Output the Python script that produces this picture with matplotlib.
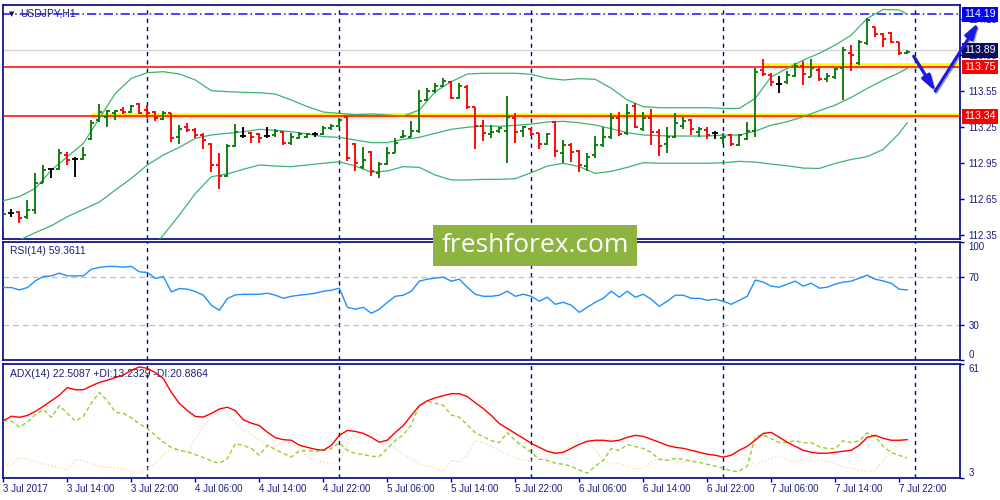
import matplotlib
matplotlib.use("Agg")
import matplotlib.pyplot as plt
import matplotlib.transforms as mtransforms
from matplotlib.collections import LineCollection
from matplotlib.patches import Rectangle

# ---------------- data (USDJPY H1, 3 Jul 06:00 .. 7 Jul 23:00) ----------------
opens = [112.434, 112.531, 112.545, 112.503, 112.559, 112.786, 112.897, 112.897, 113.017, 112.984,
         112.981, 113.148, 113.309, 113.336, 113.364, 113.392, 113.378, 113.442, 113.392, 113.378,
         113.314, 113.364, 113.164, 113.248, 113.225, 113.184, 113.109, 112.934, 112.842, 113.092,
         113.175, 113.198, 113.192, 113.175, 113.184, 113.211, 113.120, 113.156, 113.170, 113.192,
         113.192, 113.239, 113.259, 113.336, 113.109, 112.920, 113.045, 112.864, 112.939, 113.036,
         113.164, 113.170, 113.220, 113.475, 113.553, 113.592, 113.628, 113.489, 113.586, 113.414,
         113.259, 113.192, 113.220, 113.220, 113.323, 113.220, 113.231, 113.198, 113.109, 113.295,
         113.036, 113.100, 113.053, 112.925, 113.017, 113.100, 113.164, 113.323, 113.198, 113.425,
         113.231, 113.323, 113.211, 113.109, 113.164, 113.259, 113.309, 113.211, 113.225, 113.198,
         113.155, 113.183, 113.100, 113.147, 113.219, 113.725, 113.683, 113.608, 113.628, 113.675,
         113.758, 113.669, 113.725, 113.647, 113.664, 113.739, 113.864, 113.780, 113.947, 114.080,
         114.025, 114.030, 113.955, 113.864]
highs = [112.545, 112.564, 112.550, 112.642, 112.864, 112.934, 112.900, 113.067, 113.045, 112.998,
         113.081, 113.309, 113.442, 113.392, 113.392, 113.414, 113.434, 113.448, 113.434, 113.384,
         113.384, 113.370, 113.267, 113.281, 113.239, 113.198, 113.114, 113.036, 113.109, 113.275,
         113.248, 113.211, 113.198, 113.248, 113.231, 113.217, 113.198, 113.211, 113.198, 113.211,
         113.259, 113.275, 113.323, 113.342, 113.114, 113.081, 113.050, 112.956, 113.086, 113.156,
         113.225, 113.303, 113.559, 113.573, 113.614, 113.661, 113.636, 113.614, 113.600, 113.414,
         113.309, 113.267, 113.253, 113.508, 113.364, 113.259, 113.239, 113.198, 113.198, 113.300,
         113.142, 113.120, 113.059, 113.031, 113.175, 113.248, 113.370, 113.378, 113.442, 113.453,
         113.378, 113.397, 113.231, 113.248, 113.370, 113.336, 113.314, 113.248, 113.253, 113.220,
         113.203, 113.189, 113.191, 113.294, 113.739, 113.814, 113.703, 113.675, 113.719, 113.780,
         113.803, 113.814, 113.739, 113.697, 113.739, 113.914, 113.933, 113.975, 114.155, 114.086,
         114.030, 114.039, 113.961, 113.891]
lows = [112.392, 112.503, 112.448, 112.481, 112.525, 112.781, 112.823, 112.892, 112.934, 112.836,
        112.975, 113.142, 113.295, 113.253, 113.309, 113.359, 113.364, 113.359, 113.323, 113.300,
        113.309, 113.123, 113.109, 113.211, 113.156, 113.064, 112.878, 112.731, 112.831, 113.086,
        113.156, 113.120, 113.120, 113.156, 113.170, 113.100, 113.100, 113.148, 113.161, 113.164,
        113.184, 113.225, 113.248, 112.970, 112.886, 112.900, 112.842, 112.823, 112.934, 113.031,
        113.156, 113.164, 113.198, 113.470, 113.536, 113.586, 113.481, 113.481, 113.397, 113.064,
        113.136, 113.156, 113.198, 112.953, 113.120, 113.164, 113.175, 113.064, 113.100, 113.003,
        112.948, 112.961, 112.878, 112.886, 112.989, 113.086, 113.148, 113.175, 113.184, 113.239,
        113.220, 113.100, 113.009, 113.031, 113.156, 113.231, 113.184, 113.164, 113.148, 113.148,
        113.108, 113.094, 113.094, 113.141, 113.164, 113.675, 113.592, 113.530, 113.608, 113.664,
        113.600, 113.664, 113.636, 113.628, 113.647, 113.475, 113.719, 113.766, 113.933, 114.003,
        113.914, 113.953, 113.850, 113.858]
closes = [112.525, 112.531, 112.489, 112.559, 112.786, 112.892, 112.897, 113.031, 112.975, 112.984,
          113.017, 113.286, 113.378, 113.384, 113.386, 113.378, 113.425, 113.370, 113.364, 113.323,
          113.370, 113.156, 113.231, 113.225, 113.184, 113.142, 112.934, 112.842, 113.092, 113.211,
          113.175, 113.164, 113.156, 113.175, 113.217, 113.114, 113.164, 113.192, 113.189, 113.192,
          113.239, 113.259, 113.309, 112.989, 112.953, 112.975, 112.886, 112.942, 113.036, 113.120,
          113.175, 113.220, 113.470, 113.553, 113.592, 113.636, 113.489, 113.592, 113.420, 113.259,
          113.203, 113.211, 113.239, 113.331, 113.211, 113.253, 113.192, 113.106, 113.192, 113.050,
          113.100, 113.045, 112.934, 113.003, 113.100, 113.164, 113.323, 113.192, 113.364, 113.253,
          113.323, 113.211, 113.092, 113.164, 113.286, 113.303, 113.231, 113.231, 113.184, 113.198,
          113.169, 113.108, 113.183, 113.219, 113.711, 113.691, 113.628, 113.608, 113.683, 113.758,
          113.691, 113.739, 113.647, 113.675, 113.730, 113.891, 113.850, 113.961, 114.141, 114.025,
          113.980, 113.961, 113.864, 113.878]

# Bollinger bands (20)
bb_x = list(range(0, 113, 2)) + [113]
bb_upper = [112.636, 112.670, 112.739, 112.892, 113.003, 113.114, 113.323, 113.531, 113.656, 113.703,
            113.711, 113.692, 113.642, 113.553, 113.545, 113.539, 113.536, 113.525, 113.475, 113.420,
            113.375, 113.364, 113.353, 113.359, 113.350, 113.342, 113.392, 113.545, 113.628, 113.692,
            113.698, 113.698, 113.698, 113.689, 113.656, 113.642, 113.653, 113.648, 113.573, 113.475,
            113.420, 113.411, 113.411, 113.411, 113.411, 113.405, 113.405, 113.489, 113.669, 113.739,
            113.808, 113.864, 113.933, 114.016, 114.155, 114.230, 114.225, 114.191]
bb_middle = [112.250, 112.309, 112.370, 112.428, 112.503, 112.564, 112.625, 112.725, 112.823, 112.934,
             113.017, 113.081, 113.156, 113.184, 113.198, 113.211, 113.231, 113.223, 113.211, 113.192,
             113.170, 113.164, 113.142, 113.120, 113.120, 113.148, 113.164, 113.198, 113.231, 113.248,
             113.259, 113.256, 113.264, 113.275, 113.292, 113.297, 113.286, 113.267, 113.236, 113.203,
             113.184, 113.178, 113.175, 113.175, 113.175, 113.183, 113.183, 113.216, 113.266, 113.294,
             113.336, 113.386, 113.433, 113.497, 113.572, 113.641, 113.702, 113.739]
bb_low_x = list(range(18, 113, 2)) + [113]
bb_lower = [112.200, 112.350, 112.517, 112.697, 112.836, 112.859, 112.898, 112.934, 112.925, 112.920,
            112.934, 112.948, 112.961, 112.925, 112.873, 112.884, 112.920, 112.914, 112.850, 112.809,
            112.809, 112.814, 112.814, 112.820, 112.870, 112.925, 112.948, 112.920, 112.864, 112.881,
            112.914, 112.953, 112.948, 112.948, 112.948, 112.948, 112.952, 112.964, 112.958, 112.941,
            112.927, 112.908, 112.905, 112.947, 112.980, 113.003, 113.064, 113.197, 113.286]

rsi = [61.4, 61.4, 59.4, 61.4, 67.1, 70.8, 71.3, 73.6, 71.3, 71.3, 71.3, 77.0, 78.4, 79.3, 79.3, 78.7,
       79.3, 74.7, 74.2, 69.1, 70.8, 57.7, 60.6, 60.0, 58.0, 54.9, 46.4, 42.1, 52.1, 55.2, 55.7,
       55.7, 55.7, 56.6, 54.9, 52.3, 54.0, 54.9, 55.7, 56.6, 58.3, 59.1, 60.9, 44.7, 43.0, 44.7, 39.6,
       43.0, 48.9, 54.0, 54.9, 58.3, 66.8, 68.5, 69.4, 70.2, 66.8, 68.5, 61.7, 55.7, 54.0, 54.0, 54.9,
       58.3, 54.0, 55.7, 54.0, 49.8, 53.2, 47.2, 48.9, 46.4, 40.4, 44.7, 48.9, 52.3, 58.3, 53.2, 58.3,
       53.2, 55.7, 51.5, 45.5, 49.8, 54.9, 54.9, 52.3, 52.3, 50.6, 51.5, 49.8, 47.2, 50.6, 54.0, 67.7,
       66.0, 62.6, 61.7, 64.3, 66.8, 62.6, 65.1, 60.9, 61.7, 64.3, 66.0, 66.8, 69.4, 71.9, 68.5, 67.0,
       65.0, 60.0, 59.36]
adx = [32.2, 34.4, 33.9, 34.8, 36.9, 39.5, 42.3, 45.2, 49.0, 47.9, 47.9, 49.9, 51.6, 52.8, 54.1, 55.4,
       57.8, 59.5, 58.8, 56.6, 53.6, 46.5, 41.0, 37.3, 34.3, 34.0, 35.9, 38.1, 39.0, 37.3, 32.6, 30.9,
       29.7, 26.3, 23.5, 22.5, 22.2, 19.7,
       18.6, 17.6, 17.1, 19.6, 24.7, 27.2, 26.7, 25.7, 23.7, 21.2, 22.2, 26.2, 29.7, 34.8, 39.8, 42.3,
       43.8, 44.9, 45.9, 45.9, 44.4, 41.3, 38.3, 34.8, 30.7, 28.2, 25.7, 23.2, 20.6, 18.6, 16.6, 15.6,
       16.1, 18.1, 20.1, 21.7, 22.2, 22.2, 21.7, 22.2, 23.7, 24.7, 24.2, 22.7, 21.2, 19.6, 18.6, 18.1,
       17.1, 16.1, 15.1, 14.6, 13.6, 14.6, 17.1, 19.1, 22.2, 25.7, 26.2, 23.7, 21.2, 19.1, 17.1, 16.1,
       15.6, 15.6, 16.1, 16.6, 17.1, 19.6, 23.7, 24.7, 23.2, 22.2, 22.2, 22.5]
plus_di = [32.2, 31.9, 28.9, 31.4, 35.3, 37.8, 33.9, 39.8, 35.9, 31.9, 34.4, 41.2, 46.5, 42.3, 36.4,
           35.9, 33.6, 30.6, 28.1, 24.7, 21.3, 18.5, 17.1, 16.3, 14.9, 13.4, 11.7, 10.4, 12.9, 20.5,
           19.6, 18.0, 14.6, 19.6, 17.5, 15.5, 13.7, 16.8,
           17, 16.5, 17, 18, 21, 17, 15.5, 15, 14, 14, 18, 22, 25, 30, 40, 42, 41, 40, 35, 34,
           30, 26, 24, 22, 21, 26, 22, 19, 16, 12.5, 12, 10.5, 10, 9, 7, 5.5, 9, 12, 18, 17,
           20, 19, 18, 16, 12.5, 12, 13, 12.5, 11.5, 11, 10, 9, 8, 6.5, 6.5, 9, 24, 25, 23, 21,
           21, 22, 21, 21, 19, 18, 18, 22, 21, 22, 26, 24, 19, 16, 14.5, 13.2]
minus_di = [10.4, 9.6, 13.4, 12.6, 11.2, 10.1, 9.1, 8.4, 7.0, 12.4, 11.6, 10.4, 8.7, 8.7, 8.2, 7.5,
            6.2, 5.4, 7.9, 10.7, 14.9, 17.1, 16.8, 16.3, 22.7, 28.9, 33.9, 36.1, 35.3, 31.4, 27.2,
            25.2, 22.2, 19.6, 18.8, 21.8, 20.8, 18.0,
            14, 12, 11, 10.5, 10, 22, 24, 23, 26, 25, 22, 18, 15, 13, 10, 9, 8, 6.5, 12, 11,
            15, 22, 21, 19, 17, 15, 13, 12, 11.5, 14, 13, 17, 18, 19, 22, 21, 17, 12, 10, 10.5,
            9, 7.5, 8, 11, 13, 12, 11, 11, 12, 12.5, 13.5, 13, 14, 16, 15, 14, 10, 11.5, 13, 14,
            12.5, 11, 13, 11.5, 12, 11.5, 10.5, 8.5, 8, 7, 6, 7, 12, 17, 20, 20.9]

x_tick_bars = list(range(0, 113, 8))
x_tick_labels = ["3 Jul 2017", "3 Jul 14:00", "3 Jul 22:00", "4 Jul 06:00", "4 Jul 14:00",
                 "4 Jul 22:00", "5 Jul 06:00", "5 Jul 14:00", "5 Jul 22:00", "6 Jul 06:00",
                 "6 Jul 14:00", "6 Jul 22:00", "7 Jul 06:00", "7 Jul 14:00", "7 Jul 22:00"]
day_separators = [18, 42, 66, 90, 114]
price_ticks = [112.35, 112.65, 112.95, 113.25, 113.55, 113.85, 114.15]
level_lo, level_hi, level_top, bid = 113.34, 113.75, 114.19, 113.89

# ---------------- style ----------------
NAVY = "#000080"
TXT = "#1c1c78"
GREEN = "#0a7a0a"
FS = 7
plt.rcParams["font.family"] = ["Liberation Sans", "DejaVu Sans"]

fig = plt.figure(figsize=(10, 5), dpi=100)
fig.patch.set_facecolor("white")
L, W = 0.003, 0.957
ax = fig.add_axes([L, 0.522, W, 0.468])
ax_rsi = fig.add_axes([L, 0.280, W, 0.236], sharex=ax)
ax_adx = fig.add_axes([L, 0.044, W, 0.228], sharex=ax)

n = len(closes)
for a in (ax, ax_rsi, ax_adx):
    a.set_facecolor("white")
    for s in a.spines.values():
        s.set_color(NAVY)
        s.set_linewidth(1.2)
    a.yaxis.tick_right()
    a.tick_params(axis="y", colors=NAVY, labelcolor=TXT, labelsize=FS, length=3, width=1, pad=3)
    a.tick_params(axis="x", colors=NAVY, labelcolor=TXT, labelsize=FS, length=3, width=1, pad=1.5)
    for d in day_separators:
        a.axvline(d, color=NAVY, lw=1.0, ls=(0, (3, 3)), zorder=1)
ax.set_xlim(-0.05, 119.6)

# ---------------- main price panel ----------------
ax.set_ylim(112.317, 114.267)
ax.set_yticks(price_ticks)
ax.set_yticklabels([f"{v:.2f}" for v in price_ticks])
ax.tick_params(axis="x", bottom=False, labelbottom=False)
ax_rsi.tick_params(axis="x", bottom=False, labelbottom=False)

ax.axhline(bid, color="#d3d3d3", lw=1, zorder=1)
ax.axhline(level_top, color="#1010ff", lw=1.1, ls=(0, (6, 2, 1, 2)), zorder=1)

# yellow zones with soft shadow
for lv, x0 in ((level_lo, 10.9), (level_hi, 95.0)):
    for k, al in enumerate([0.12, 0.08, 0.05, 0.03]):
        ax.plot([x0, 119.6], [lv - 0.006 - 0.008 * k] * 2, color="gray", lw=1.6, alpha=al,
                solid_capstyle="butt", zorder=2)
    ax.plot([x0, 119.6], [lv + 0.013] * 2, color="#ffff00", lw=3.4, solid_capstyle="butt", zorder=2)
ax.axhline(level_lo, color="#ff0000", lw=1.1, zorder=3)
ax.axhline(level_hi, color="#ff0000", lw=1.1, zorder=3)

# Bollinger bands
for xs, ys in ((bb_x, bb_upper), (bb_x, bb_middle), (bb_low_x, bb_lower)):
    ax.plot(xs, ys, color="#3cb371", lw=0.9, zorder=3)

# OHLC bars
segs, cols = [], []
for i in range(n):
    o, h, l, c = opens[i], highs[i], lows[i], closes[i]
    col = GREEN if c > o else ("#ff0000" if c < o else "black")
    segs += [[(i, l), (i, h)], [(i - 0.38, o), (i, o)], [(i, c), (i + 0.38, c)]]
    cols += [col] * 3
ax.add_collection(LineCollection(segs, colors=cols, linewidths=1.35, zorder=4, capstyle="butt"))

# price boxes on the right scale
btr = mtransforms.blended_transform_factory(ax.transAxes, ax.transData)
for v, fc in ((level_top, "#0000ff"), (bid, "#0c0c5c"), (level_hi, "#ff0000"), (level_lo, "#ff0000")):
    ax.text(1.0045, v, f"{v:.2f}", transform=btr, color="white", fontsize=FS + 0.6, va="center",
            ha="left", bbox=dict(boxstyle="square,pad=0.22", fc=fc, ec="none"), zorder=10, clip_on=False)

# forecast arrows
for (xa, ya), (xb, yb) in (((113.8, 113.84), (116.5, 113.55)), ((116.5, 113.55), (121.9, 114.12))):
    ax.annotate("", xy=(xb + 0.15, yb - 0.012), xytext=(xa + 0.15, ya - 0.012),
                arrowprops=dict(arrowstyle="-|>,head_length=0.9,head_width=0.28", color="#00003a",
                                lw=2.2, alpha=0.35, shrinkA=0, shrinkB=0), annotation_clip=False, zorder=11)
    ax.annotate("", xy=(xb, yb), xytext=(xa, ya),
                arrowprops=dict(arrowstyle="-|>,head_length=0.9,head_width=0.28", color="#1a1ae6",
                                lw=2.2, shrinkA=0, shrinkB=0), annotation_clip=False, zorder=12)

ax.text(0.006, 0.974, "\u25BC", transform=ax.transAxes, fontsize=5, color="#10104a", va="top",
        ha="left", family="DejaVu Sans")
ax.text(0.018, 0.985, "USDJPY,H1", transform=ax.transAxes, fontsize=FS + 0.5, color=TXT, va="top", ha="left")

# ---------------- RSI panel ----------------
ax_rsi.set_ylim(0, 100)
ax_rsi.axhline(70, color="#c0c0c0", lw=1, ls=(0, (4, 3)), zorder=1)
ax_rsi.axhline(30, color="#c0c0c0", lw=1, ls=(0, (4, 3)), zorder=1)
ax_rsi.plot(range(len(rsi)), rsi, color="#1e90ff", lw=1.0, zorder=3)
ax_rsi.set_yticks([100, 70, 30, 0])
ax_rsi.set_yticklabels(["100", "70", "30", "0"])
lbls = ax_rsi.get_yticklabels()
lbls[0].set_va("top")
lbls[3].set_va("bottom")
ax_rsi.text(0.007, 0.965, "RSI(14) 59.3611", transform=ax_rsi.transAxes, fontsize=FS + 0.5, color=TXT,
            va="top", ha="left")

# ---------------- ADX panel ----------------
ax_adx.set_ylim(3, 61)
ax_adx.plot(range(len(minus_di)), minus_di, color="#f5deb3", lw=1.0, ls=(0, (1, 1.5)), zorder=2)
ax_adx.plot(range(len(plus_di)), plus_di, color="#9acd32", lw=1.0, ls=(0, (3, 2)), zorder=3)
ax_adx.plot(range(len(adx)), adx, color="#ff0000", lw=1.0, zorder=4)
ax_adx.set_yticks([61, 3])
ax_adx.set_yticklabels(["61", "3"])
al = ax_adx.get_yticklabels()
al[0].set_va("top")
al[1].set_va("bottom")
ax_adx.text(0.007, 0.96, "ADX(14) 22.5087 +DI:13.2329 -DI:20.8864", transform=ax_adx.transAxes,
            fontsize=FS + 0.5, color=TXT, va="top", ha="left")
ax_adx.set_xticks(x_tick_bars)
ax_adx.set_xticklabels(x_tick_labels, ha="left")

# ---------------- watermark ----------------
fig.patches.append(Rectangle((0.433, 0.468), 0.204, 0.082, transform=fig.transFigure,
                             facecolor="#8db441", edgecolor="none", zorder=20))
fig.text(0.535, 0.509, "freshforex.com", color="white", fontsize=19, ha="center", va="center",
         family="Open Sans", zorder=21)

fig.savefig("out.png", dpi=100, facecolor="white")
